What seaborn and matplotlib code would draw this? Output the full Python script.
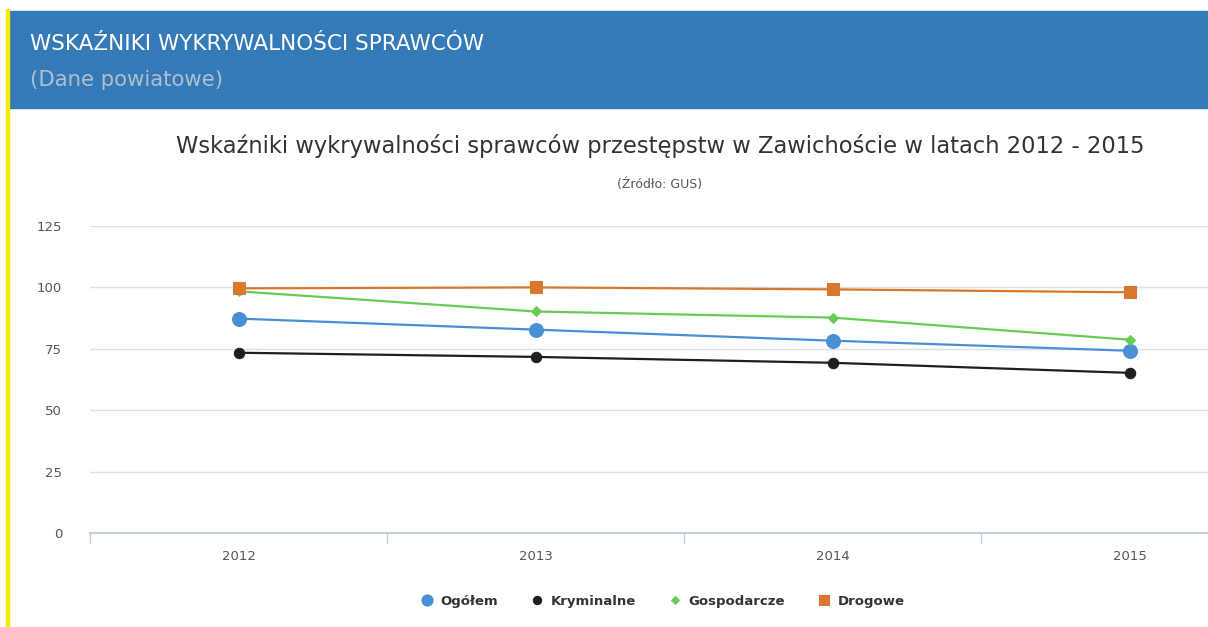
import seaborn as sns
import matplotlib.pyplot as plt
import matplotlib.patches as mpatches
import pandas as pd

# data
years = ['2012', '2013', '2014', '2015']
ogolem = [87.3, 82.8, 78.3, 74.2]
kryminalne = [73.4, 71.7, 69.3, 65.2]
gospodarcze = [98.4, 90.2, 87.7, 78.7]
drogowe = [99.6, 100.0, 99.2, 98.0]
series_names = ['Ogółem', 'Kryminalne', 'Gospodarcze', 'Drogowe']

df = pd.DataFrame({
    'idx': list(range(len(years))) * 4,
    'value': ogolem + kryminalne + gospodarcze + drogowe,
    'series': [s for s in series_names for _ in years],
})

colors = {'Ogółem': '#4a8fd4', 'Kryminalne': '#1f1f1f',
          'Gospodarcze': '#66cc55', 'Drogowe': '#d9772f'}
markers = {'Ogółem': 'o', 'Kryminalne': 'o', 'Gospodarcze': 'D', 'Drogowe': 's'}
msizes = {'Ogółem': 10, 'Kryminalne': 7.5, 'Gospodarcze': 5.5, 'Drogowe': 8.5}

sns.set_style('white')
plt.rcParams['font.family'] = ['DejaVu Sans']

fig = plt.figure(figsize=(12.08, 6.27), dpi=100)
W, H = 1208, 627

# header band
fig.patches.append(mpatches.Rectangle((8 / W, 1 - 108 / H), 1, 97 / H, transform=fig.transFigure,
                                      color='#337ab7', zorder=0))
fig.patches.append(mpatches.Rectangle((6 / W, 0), 3 / W, 1 - 9 / H, transform=fig.transFigure,
                                      color='#f5ee00', zorder=1))
fig.text(30 / W, 1 - 44 / H, 'WSKAŹNIKI WYKRYWALNOŚCI SPRAWCÓW', color='white',
         fontsize=15.5, va='center', ha='left')
fig.text(30 / W, 1 - 80 / H, '(Dane powiatowe)', color='#b0bfd0',
         fontsize=15.3, va='center', ha='left')

fig.text(660 / W, 1 - 146 / H,
         'Wskaźniki wykrywalności sprawców przestępstw w Zawichoście w latach 2012 - 2015',
         color='#333333', fontsize=16.3, ha='center', va='center')
fig.text(660 / W, 1 - 185 / H, '(Źródło: GUS)', color='#555555', fontsize=9,
         ha='center', va='center')

ax = fig.add_axes([90 / W, 1 - 533 / H, 1 - 90 / W, (533 - 226) / H])
for s in series_names:
    sub = df[df['series'] == s]
    sns.lineplot(data=sub, x='idx', y='value', ax=ax, color=colors[s], marker=markers[s],
                 markersize=msizes[s], markeredgecolor=colors[s], linewidth=1.6, label=s,
                 zorder=3)

ax.set_ylim(0, 125)
ax.set_xlim(-0.5, 3.264)
ax.set_yticks([0, 25, 50, 75, 100, 125])
ax.set_xticks(range(len(years)))
ax.set_xticklabels(years)
ax.set_xticks([-0.5, 0.5, 1.5, 2.5], minor=True)
ax.set_xlabel('')
ax.set_ylabel('')
for sp in ['top', 'right', 'left']:
    ax.spines[sp].set_visible(False)
ax.spines['bottom'].set_color('#c0d0e0')
ax.spines['bottom'].set_linewidth(1.5)
ax.yaxis.grid(True, color='#dde0e4', linewidth=1)
ax.set_axisbelow(True)
ax.tick_params(axis='y', length=0, pad=20, labelsize=9.5, labelcolor='#555555')
ax.tick_params(axis='x', which='major', length=0, pad=12, labelsize=9.5, labelcolor='#555555')
ax.tick_params(axis='x', which='minor', bottom=True, length=8, width=1, color='#c0d0e0',
               direction='out')

handles, labels = ax.get_legend_handles_labels()
ax.legend_.remove()
leg = fig.legend(handles, labels, loc='center', bbox_to_anchor=(663 / W, 1 - 601 / H), ncol=4,
                 frameon=False, handlelength=0.8, columnspacing=2.6, handletextpad=0.6,
                 markerscale=0.8, prop={'weight': 'bold', 'size': 9.5})
for h in leg.legend_handles:
    h.set_linestyle('none')
for t in leg.get_texts():
    t.set_color('#333333')

fig.savefig('out.png', dpi=100)
